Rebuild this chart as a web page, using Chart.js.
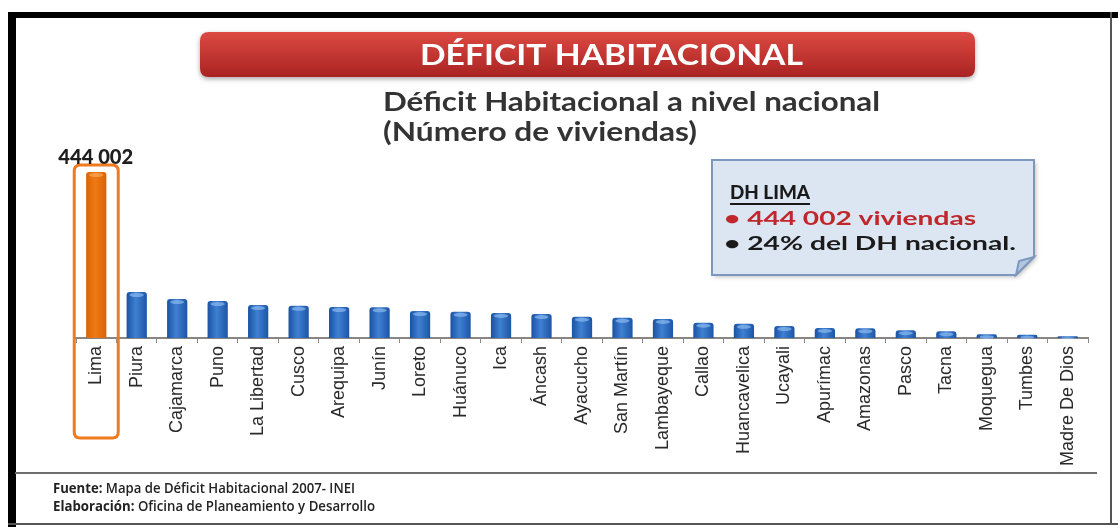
<!DOCTYPE html>
<html>
<head>
<meta charset="utf-8">
<title>Déficit Habitacional</title>
<script src="https://cdn.jsdelivr.net/npm/chart.js@4.4.1/dist/chart.umd.min.js"></script>
<style>
  html, body { margin: 0; padding: 0; background: #fff; }
  #wrap { width: 1118px; height: 527px; }
</style>
</head>
<body>
<div id="wrap"><canvas id="dhChart" width="1118" height="527"></canvas></div>
<script>
// ---------- datos ----------
const regiones = [
  "Lima", "Piura", "Cajamarca", "Puno", "La Libertad", "Cusco", "Arequipa",
  "Junín", "Loreto", "Huánuco", "Ica", "Áncash", "Ayacucho", "San Martín",
  "Lambayeque", "Callao", "Huancavelica", "Ucayali", "Apurímac", "Amazonas",
  "Pasco", "Tacna", "Moquegua", "Tumbes", "Madre De Dios"
];
const viviendas = [
  444002, 123000, 104000, 99000, 88000, 86000, 83000,
  82000, 72000, 70000, 67000, 64000, 57000, 54000,
  51000, 41000, 38000, 32000, 27000, 26000,
  21000, 18000, 10000, 9000, 5000
];
const ejeMax = 460000;

const titulo = "DÉFICIT HABITACIONAL";
const subtitulo = ["Déficit Habitacional a nivel nacional", "(Número de viviendas)"];
const notaTitulo = "DH LIMA";
const notaLineas = ["• 444 002 viviendas", "• 24% del DH nacional."];
const fuente = [
  ["Fuente:", " Mapa de Déficit Habitacional 2007- INEI"],
  ["Elaboración:", " Oficina de Planeamiento y Desarrollo"]
];

const fmtMiles = (v) => String(v).replace(/\B(?=(\d{3})+(?!\d))/g, " ");

// ---------- helpers ----------
function rrect(ctx, x, y, w, h, r) {
  ctx.beginPath();
  ctx.moveTo(x + r, y);
  ctx.lineTo(x + w - r, y);
  ctx.quadraticCurveTo(x + w, y, x + w, y + r);
  ctx.lineTo(x + w, y + h - r);
  ctx.quadraticCurveTo(x + w, y + h, x + w - r, y + h);
  ctx.lineTo(x + r, y + h);
  ctx.quadraticCurveTo(x, y + h, x, y + h - r);
  ctx.lineTo(x, y + r);
  ctx.quadraticCurveTo(x, y, x + r, y);
  ctx.closePath();
}

// draws left-aligned text stretched/squeezed to a given width
function textoAncho(ctx, txt, x, y, ancho) {
  const w = ctx.measureText(txt).width;
  ctx.save();
  ctx.translate(x, y);
  ctx.scale(ancho / w, 1);
  ctx.fillText(txt, 0, 0);
  ctx.restore();
}

// cylinder-like shading for each bar
function colorBarra(c) {
  const chart = c.chart;
  const x = chart.scales && chart.scales.x;
  const naranja = c.dataIndex === 0;
  if (!x || !chart.chartArea) return naranja ? "#e8700f" : "#2f6fc4";
  const cx = x.getPixelForValue(c.dataIndex);
  const half = (x.width / regiones.length) * 0.25;
  const g = chart.ctx.createLinearGradient(cx - half, 0, cx + half, 0);
  if (naranja) {
    g.addColorStop(0, "#d86406");
    g.addColorStop(0.45, "#ef7a14");
    g.addColorStop(1, "#d86406");
  } else {
    g.addColorStop(0, "#1b52a2");
    g.addColorStop(0.45, "#3f80d2");
    g.addColorStop(1, "#1d55a6");
  }
  return g;
}

// ---------- decoration plugin ----------
const decoracion = {
  id: "decoracion",
  beforeDraw(chart) {
    const ctx = chart.ctx;
    ctx.save();
    ctx.fillStyle = "#fff";
    ctx.fillRect(0, 0, chart.width, chart.height);

    // frame
    ctx.fillStyle = "#000";
    ctx.fillRect(8, 12, 1110, 6);
    ctx.fillRect(8, 12, 8, 515);
    ctx.fillStyle = "#555";
    ctx.fillRect(8, 523, 1110, 2);
    ctx.fillRect(1110, 12, 2, 513);

    // red banner
    ctx.shadowColor = "rgba(0,0,0,0.35)";
    ctx.shadowBlur = 5;
    ctx.shadowOffsetY = 2;
    const g = ctx.createLinearGradient(0, 32, 0, 77);
    g.addColorStop(0, "#dc4a42");
    g.addColorStop(1, "#a92322");
    ctx.fillStyle = g;
    rrect(ctx, 200, 32, 775, 45, 9);
    ctx.fill();
    ctx.shadowColor = "transparent";
    ctx.fillStyle = "#fff";
    ctx.font = "bold 29px Lato, 'Open Sans', sans-serif";
    ctx.textAlign = "left";
    ctx.textBaseline = "middle";
    textoAncho(ctx, titulo, 420, 56, 383);

    // subtitle
    ctx.fillStyle = "#333";
    ctx.font = "bold 26px Lato, 'Open Sans', sans-serif";
    textoAncho(ctx, subtitulo[0], 383, 103, 497);
    textoAncho(ctx, subtitulo[1], 383, 133, 314);
    ctx.restore();
  },
  afterDatasetsDraw(chart) {
    const ctx = chart.ctx;
    const meta = chart.getDatasetMeta(0);
    ctx.save();
    // light top caps on the bars
    meta.data.forEach((bar, i) => {
      const w = bar.width;
      const h = Math.min(4, bar.base - bar.y);
      if (h <= 0) return;
      ctx.fillStyle = i === 0 ? "rgba(255,190,120,0.5)" : "rgba(140,185,240,0.7)";
      ctx.beginPath();
      ctx.ellipse(bar.x, bar.y + h / 2 + 1, w / 2 - 3, h / 2, 0, 0, Math.PI * 2);
      ctx.fill();
    });

    // highlight frame around Lima
    const lima = meta.data[0];
    ctx.strokeStyle = "#f07b1f";
    ctx.lineWidth = 3;
    rrect(ctx, lima.x - 22, 165, 44, 273, 6);
    ctx.stroke();

    // value label
    ctx.fillStyle = "#1e1e1e";
    ctx.font = "900 21px Lato, 'Open Sans', sans-serif";
    ctx.textAlign = "left";
    ctx.textBaseline = "middle";
    textoAncho(ctx, fmtMiles(viviendas[0]), lima.x - 38, lima.y - 15, 75);
    ctx.restore();
  },
  afterDraw(chart) {
    const ctx = chart.ctx;
    ctx.save();
    // callout note
    const bx = 712, by = 160, bw = 322, bh = 115, fold = 18;
    ctx.shadowColor = "rgba(0,0,0,0.25)";
    ctx.shadowBlur = 4;
    ctx.shadowOffsetX = 2;
    ctx.shadowOffsetY = 2;
    ctx.beginPath();
    ctx.moveTo(bx, by);
    ctx.lineTo(bx + bw, by);
    ctx.lineTo(bx + bw, by + bh - fold);
    ctx.lineTo(bx + bw - fold, by + bh);
    ctx.lineTo(bx, by + bh);
    ctx.closePath();
    ctx.fillStyle = "#dce6f2";
    ctx.fill();
    ctx.shadowColor = "transparent";
    ctx.strokeStyle = "#7d98bf";
    ctx.lineWidth = 2;
    ctx.stroke();
    ctx.beginPath();
    ctx.moveTo(bx + bw, by + bh - fold);
    ctx.lineTo(bx + bw - fold + 3, by + bh - fold + 4);
    ctx.lineTo(bx + bw - fold, by + bh);
    ctx.closePath();
    ctx.fillStyle = "#b5c6de";
    ctx.fill();
    ctx.stroke();

    ctx.textAlign = "left";
    ctx.textBaseline = "middle";
    ctx.font = "900 19px Lato, 'Open Sans', sans-serif";
    ctx.fillStyle = "#1a1a1a";
    textoAncho(ctx, notaTitulo, 730, 193, 80);
    ctx.fillRect(730, 203, 80, 2);
    ctx.font = "bold 19px Lato, 'Open Sans', sans-serif";
    ctx.fillStyle = "#c0272d";
    textoAncho(ctx, notaLineas[0], 724, 219, 252);
    ctx.fillStyle = "#1a1a1a";
    textoAncho(ctx, notaLineas[1], 724, 244, 292);

    // footer
    ctx.fillStyle = "#6e6e6e";
    ctx.fillRect(15, 472, 1082, 2);
    ctx.fillStyle = "#222";
    const anchos = [302, 322];
    const fBold = "bold 15px 'Open Sans', sans-serif";
    const fNorm = "600 15px 'Open Sans', sans-serif";
    fuente.forEach((linea, i) => {
      const y = 489 + i * 18;
      ctx.font = fBold;
      const w0 = ctx.measureText(linea[0]).width;
      ctx.font = fNorm;
      const w1 = ctx.measureText(linea[1]).width;
      const k = anchos[i] / (w0 + w1);
      ctx.save();
      ctx.translate(53, y);
      ctx.scale(k, 1);
      ctx.font = fBold;
      ctx.fillText(linea[0], 0, 0);
      ctx.font = fNorm;
      ctx.fillText(linea[1], w0, 0);
      ctx.restore();
    });
    ctx.restore();
  }
};

// ---------- chart ----------
new Chart(document.getElementById("dhChart"), {
  type: "bar",
  data: {
    labels: regiones,
    datasets: [{
      data: viviendas,
      backgroundColor: colorBarra,
      borderRadius: { topLeft: 3, topRight: 3 },
      borderSkipped: "bottom",
      barPercentage: 0.5,
      categoryPercentage: 1
    }]
  },
  options: {
    responsive: false,
    animation: false,
    devicePixelRatio: 1,
    layout: { padding: { left: 76, right: 30, top: 166, bottom: 0 } },
    plugins: { legend: { display: false }, tooltip: { enabled: false } },
    scales: {
      x: {
        offset: true,
        grid: { display: true, drawOnChartArea: false, tickLength: 5, color: "#8a8a8a", offset: true },
        border: { display: true, color: "#8a8580", width: 2 },
        ticks: {
          autoSkip: false,
          minRotation: 90,
          maxRotation: 90,
          padding: 3,
          color: "#2a2a2a",
          font: { family: "'Liberation Sans Narrow', 'Liberation Sans', sans-serif", size: 18 }
        },
        afterFit: (s) => { s.height = 189; }
      },
      y: { display: false, min: 0, max: ejeMax }
    }
  },
  plugins: [decoracion]
});
</script>
</body>
</html>
